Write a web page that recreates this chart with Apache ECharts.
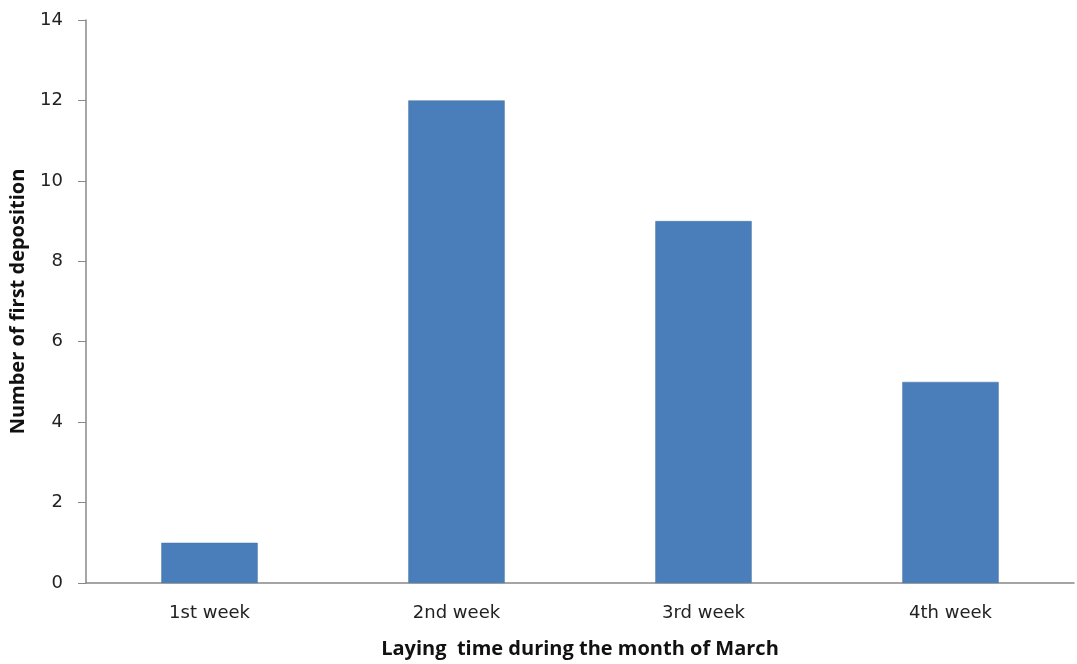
<!DOCTYPE html>
<html>
<head>
<meta charset="utf-8">
<script src="https://cdn.jsdelivr.net/npm/echarts@6/dist/echarts.min.js"></script>
<style>
    html, body { margin: 0; padding: 0; background: #fff; }
    #chart { width: 1077px; height: 664px; }
</style>
</head>
<body>
<div id="chart"></div>
<script>
    // data
    var categories = ['1st week', '2nd week', '3rd week', '4th week'];
    var counts = [1, 12, 9, 5];
    var yTicks = { min: 0, max: 14, interval: 2 };

    var myChart = echarts.init(document.getElementById('chart'));
    var labelFont = 'DejaVu Sans, sans-serif';
    var titleFont = 'Open Sans, DejaVu Sans, sans-serif';

    var option = {
        animation: false,
        grid: { left: 86, right: 3, top: 20, bottom: 81, outerBoundsMode: 'none', containLabel: false },
        xAxis: {
            type: 'category',
            data: categories,
            name: 'Laying  time during the month of March',
            nameLocation: 'middle',
            nameGap: 56,
            nameTextStyle: { fontFamily: titleFont, fontWeight: 'bold', fontSize: 20, color: '#111' },
            axisLine: { lineStyle: { color: '#888', width: 1.5 } },
            axisTick: { show: false },
            axisLabel: { fontFamily: labelFont, fontSize: 18, color: '#222', margin: 21 }
        },
        yAxis: {
            type: 'value',
            min: yTicks.min,
            max: yTicks.max,
            interval: yTicks.interval,
            name: 'Number of first deposition',
            nameLocation: 'middle',
            nameGap: 58,
            nameTextStyle: { fontFamily: titleFont, fontWeight: 'bold', fontSize: 20, color: '#111' },
            axisLine: { show: true, lineStyle: { color: '#888', width: 1.5 } },
            axisTick: { show: true, inside: false, length: 8, lineStyle: { color: '#888' } },
            axisLabel: { fontFamily: labelFont, fontSize: 18, color: '#222', margin: 23 },
            splitLine: { show: false }
        },
        series: [
            {
                type: 'bar',
                data: counts,
                barWidth: '39%',
                itemStyle: { color: '#4a7ebb', borderColor: '#41719c', borderWidth: 0.5 }
            }
        ]
    };
    myChart.setOption(option);
</script>
</body>
</html>
